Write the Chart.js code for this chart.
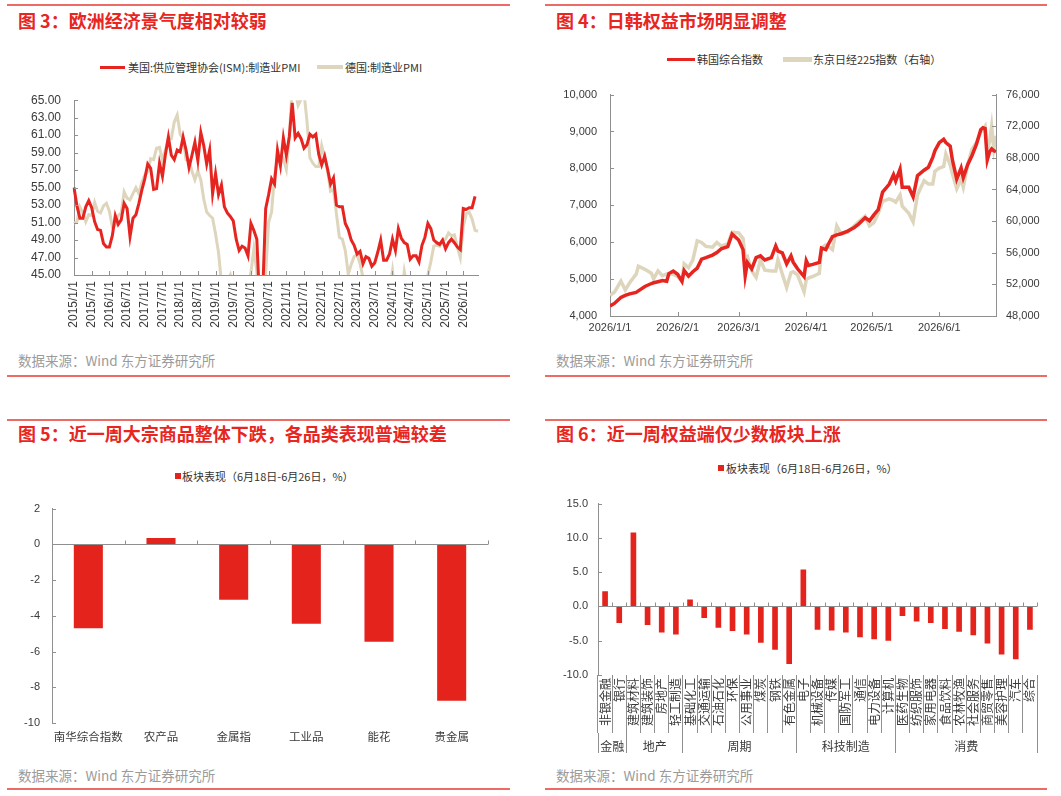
<!DOCTYPE html>
<html>
<head>
<meta charset="utf-8">
<script src="https://cdn.jsdelivr.net/npm/chart.js@4.4.1/dist/chart.umd.min.js"></script>
<style>
body { margin: 0; width: 1061px; height: 796px; background: #fff; position: relative; overflow: hidden; font-family: 'Noto Sans CJK SC', 'Liberation Sans', sans-serif; }
.rule { position: absolute; height: 2px; background: #EC6B65; }
.title { position: absolute; font-size: 18px; line-height: 18px; font-weight: bold; color: #E8251F; white-space: nowrap; }
.src { position: absolute; font-size: 13.5px; line-height: 14px; color: #9b9b9b; white-space: nowrap; }
.lg { position: absolute; font-size: 11px; line-height: 12px; color: #333; white-space: nowrap; }
.sw { position: absolute; }
canvas { position: absolute; }
</style>
</head>
<body>

<!-- 图3 -->
<div class="rule" style="left:7px;top:4px;width:503px"></div>
<div class="title" style="left:18px;top:11px">图 3：欧洲经济景气度相对较弱</div>
<div class="sw" style="left:100px;top:66px;width:25px;height:3px;background:#E62520"></div>
<div class="lg" style="left:128px;top:61px">美国:供应管理协会(ISM):制造业PMI</div>
<div class="sw" style="left:317px;top:65px;width:26px;height:4px;background:#DED5BD"></div>
<div class="lg" style="left:345px;top:61px">德国:制造业PMI</div>
<canvas id="c3" width="520" height="265" style="left:0;top:80px"></canvas>
<div class="src" style="left:18px;top:353px">数据来源：Wind 东方证券研究所</div>
<div class="rule" style="left:7px;top:375px;width:503px"></div>

<!-- 图4 -->
<div class="rule" style="left:545px;top:4px;width:502px"></div>
<div class="title" style="left:556px;top:11px">图 4：日韩权益市场明显调整</div>
<div class="sw" style="left:667px;top:58px;width:28px;height:3px;background:#E62520"></div>
<div class="lg" style="left:697px;top:53px">韩国综合指数</div>
<div class="sw" style="left:783px;top:57px;width:29px;height:5px;background:#DED5BD"></div>
<div class="lg" style="left:813px;top:53px">东京日经225指数（右轴）</div>
<canvas id="c4" width="521" height="270" style="left:540px;top:75px"></canvas>
<div class="src" style="left:556px;top:353px">数据来源：Wind 东方证券研究所</div>
<div class="rule" style="left:545px;top:375px;width:502px"></div>

<!-- 图5 -->
<div class="rule" style="left:7px;top:419px;width:503px"></div>
<div class="title" style="left:18px;top:424px">图 5：近一周大宗商品整体下跌，各品类表现普遍较差</div>
<div class="sw" style="left:175px;top:473px;width:6px;height:6px;background:#E5231D"></div>
<div class="lg" style="left:182px;top:470px">板块表现（6月18日-6月26日，%）</div>
<canvas id="c5" width="520" height="265" style="left:0;top:490px"></canvas>
<div class="src" style="left:18px;top:768px">数据来源：Wind 东方证券研究所</div>
<div class="rule" style="left:7px;top:788px;width:503px"></div>

<!-- 图6 -->
<div class="rule" style="left:545px;top:419px;width:502px"></div>
<div class="title" style="left:556px;top:424px">图 6：近一周权益端仅少数板块上涨</div>
<div class="sw" style="left:718px;top:465px;width:6px;height:6px;background:#E5231D"></div>
<div class="lg" style="left:726px;top:462px">板块表现（6月18日-6月26日，%）</div>
<canvas id="c6" width="521" height="275" style="left:540px;top:487px"></canvas>
<div class="src" style="left:556px;top:768px">数据来源：Wind 东方证券研究所</div>
<div class="rule" style="left:545px;top:788px;width:502px"></div>

<script>
// ---------- 图3 data: monthly PMI ----------
var pmiMonths = [];
for (var yr = 2015; yr <= 2026; yr++) {
    for (var mo = 1; mo <= 12; mo++) {
        if (yr === 2026 && mo > 6) break;
        pmiMonths.push(yr + '/' + mo + '/1');
    }
}
var usIsmPmi = [
    55.0, 52.9, 51.5, 51.5, 52.8, 53.5, 52.7, 51.1, 50.2, 50.1, 48.6, 48.2,
    48.2, 49.5, 51.8, 50.8, 51.3, 53.2, 52.6, 49.4, 51.5, 51.9, 53.2, 54.7,
    56.0, 57.7, 57.2, 54.8, 54.9, 57.8, 56.3, 58.8, 60.8, 58.7, 58.2, 59.3,
    59.1, 60.8, 59.3, 57.3, 58.7, 60.2, 58.1, 61.3, 59.8, 57.7, 59.3, 54.3,
    56.6, 54.2, 55.3, 52.8, 52.1, 51.7, 51.2, 49.1, 47.8, 48.3, 48.1, 47.2,
    50.9, 50.1, 49.1, 41.5, 43.1, 52.6, 54.2, 56.0, 55.4, 59.3, 57.5, 60.7,
    58.7, 60.8, 64.7, 60.7, 61.2, 60.6, 59.5, 59.9, 61.1, 60.8, 61.1, 58.8,
    57.6, 58.6, 57.1, 55.4, 56.1, 53.0, 52.8, 52.8, 50.9, 50.2, 49.0, 48.4,
    47.4, 47.7, 46.3, 47.1, 46.9, 46.0, 46.4, 47.6, 49.0, 46.7, 46.7, 47.4,
    49.1, 47.8, 50.3, 49.2, 48.7, 48.5, 46.8, 47.2, 47.2, 46.5, 48.4, 49.3,
    50.9, 50.3, 49.0, 48.7, 48.5, 49.0, 48.0, 48.7, 49.1, 48.7, 48.2, 47.9,
    52.6, 52.5, 52.7, 52.7, 54.0
];
var dePmi = [
    50.9, 51.1, 52.8, 52.1, 51.1, 51.9, 51.8, 53.3, 52.3, 52.1, 52.9, 53.2,
    52.3, 50.5, 50.7, 51.8, 52.1, 54.5, 53.8, 53.6, 54.3, 55.0, 54.3, 55.6,
    56.4, 56.8, 58.3, 58.2, 59.5, 59.6, 58.1, 59.3, 60.6, 60.6, 62.5, 63.3,
    61.1, 60.6, 58.2, 58.1, 56.9, 55.9, 56.9, 55.9, 53.7, 52.2, 51.8, 51.5,
    49.7, 47.6, 44.1, 44.4, 44.3, 45.0, 43.2, 43.5, 41.7, 42.1, 44.1, 43.7,
    45.3, 48.0, 45.4, 34.5, 36.6, 45.2, 51.0, 52.2, 56.4, 58.2, 57.8, 58.3,
    57.1, 60.7, 66.6, 66.2, 64.4, 65.1, 65.9, 62.6, 58.4, 57.8, 57.4, 57.4,
    59.8, 58.4, 56.9, 54.6, 54.8, 52.0, 49.3, 49.1, 47.8, 45.1, 46.2, 47.1,
    47.3, 46.3, 44.7, 44.5, 43.2, 40.6, 38.8, 39.1, 39.6, 40.8, 42.6, 43.3,
    45.5, 42.5, 41.9, 42.5, 45.4, 43.5, 43.2, 42.4, 40.6, 43.0, 43.0, 42.5,
    45.0, 46.5, 48.3, 48.4, 48.3, 49.0, 49.1, 49.8, 49.5, 49.6, 48.2, 47.0,
    50.5, 52.0, 52.2, 51.4, 50.1, 50.0
];

// ---------- 图4 data: daily index levels ----------
var eqDates = [
    '2026/1/1', '2026/1/3', '2026/1/6', '2026/1/8', '2026/1/10', '2026/1/13', '2026/1/14', '2026/1/17',
    '2026/1/20', '2026/1/21', '2026/1/23', '2026/1/25', '2026/1/27', '2026/1/28', '2026/1/30',
    '2026/2/1', '2026/2/3', '2026/2/4', '2026/2/6', '2026/2/8', '2026/2/10', '2026/2/12', '2026/2/14',
    '2026/2/17', '2026/2/19', '2026/2/21', '2026/2/24', '2026/2/26',
    '2026/3/1', '2026/3/3', '2026/3/4', '2026/3/5', '2026/3/7', '2026/3/9', '2026/3/11', '2026/3/13',
    '2026/3/16', '2026/3/18', '2026/3/19', '2026/3/21', '2026/3/23', '2026/3/25', '2026/3/26',
    '2026/3/28', '2026/3/31',
    '2026/4/1', '2026/4/2', '2026/4/4', '2026/4/7', '2026/4/8', '2026/4/10', '2026/4/11', '2026/4/13',
    '2026/4/15', '2026/4/17', '2026/4/20', '2026/4/23', '2026/4/25', '2026/4/28', '2026/4/30',
    '2026/5/2', '2026/5/4', '2026/5/6', '2026/5/9', '2026/5/11', '2026/5/12', '2026/5/14', '2026/5/15',
    '2026/5/18', '2026/5/20', '2026/5/22', '2026/5/25', '2026/5/27', '2026/5/29', '2026/5/30',
    '2026/6/1', '2026/6/3', '2026/6/4', '2026/6/6', '2026/6/7', '2026/6/9', '2026/6/11', '2026/6/12',
    '2026/6/14', '2026/6/16', '2026/6/18', '2026/6/20', '2026/6/21', '2026/6/22', '2026/6/23',
    '2026/6/24', '2026/6/25', '2026/6/26', '2026/6/27'
];
var kospi = [
    4270, 4340, 4500, 4560, 4600, 4640, 4680, 4800,
    4880, 4900, 4930, 4960, 4940, 5150, 5220,
    5130, 4940, 5230, 5080, 5200, 5300, 5540, 5580,
    5650, 5720, 5820, 5880, 6220,
    6060, 5800, 5090, 5450, 5280, 5580, 5630, 5520,
    5580, 5900, 5760, 5710, 5410, 5630, 5460,
    5280, 5070,
    5500, 5370, 5400, 5450, 5840, 5800, 5930, 6150,
    6200, 6230, 6300, 6400, 6490, 6660, 6580,
    6740, 6880, 7360, 7570, 7830, 7660, 7980, 7490,
    7490, 7230, 7800, 7950, 8030, 8300, 8480,
    8700, 8790, 8700, 8600, 8230, 7710, 8010, 7750,
    8100, 8350, 8650, 9050, 9100, 9080, 8230,
    8440, 8530, 8480, 8450
];
var nikkei = [
    50600, 51000, 52400, 51300, 52200, 53300, 54300, 53900,
    53400, 52700, 53700, 53100, 53300, 53300, 53300,
    53000, 52400, 54600, 54100, 55100, 57500, 57300, 56800,
    56700, 57300, 56850, 57100, 58600,
    58500, 57800, 55300, 55500, 53700, 52900, 55100, 53800,
    53700, 53700, 55100, 53300, 51600, 53500, 53600,
    53200, 51050,
    52600, 52800, 53000, 53400, 56600, 57000, 56800, 56400,
    59400, 58400, 58600, 59400, 59900, 60600, 59400,
    59800, 61000, 62500, 62800, 62600, 62400, 63300, 61900,
    61000, 59900, 63300, 65100, 64700, 64700, 66300,
    66700, 66900, 68500, 67100, 66000, 64100, 65300, 64300,
    67100, 69100, 69900, 71300, 71600, 72000, 68900,
    70000, 72000, 69200, 70800
];
var eqMonthTicks = ['2026/1/1', '2026/2/1', '2026/3/1', '2026/4/1', '2026/5/1', '2026/6/1'];

// ---------- 图5 data ----------
var commodNames = ['南华综合指数', '农产品', '金属指', '工业品', '能花', '贵金属'];
var commodChg = [-4.7, 0.35, -3.1, -4.45, -5.45, -8.75];

// ---------- 图6 data ----------
var sectorNames = [
    '非银金融', '银行',
    '建筑材料', '建筑装饰', '房地产', '轻工制造',
    '基础化工', '交通运输', '石油石化', '环保', '公用事业', '煤炭', '钢铁', '有色金属',
    '电子', '机械设备', '传媒', '国防军工', '通信', '电力设备', '计算机',
    '医药生物', '纺织服饰', '家用电器', '食品饮料', '农林牧渔', '社会服务', '商贸零售', '美容护理', '汽车', '综合'
];
var sectorChg = [
    2.2, -2.4,
    10.8, -2.7, -3.8, -4.1,
    1.0, -1.7, -3.1, -3.6, -4.1, -5.3, -6.3, -8.4,
    5.4, -3.4, -3.5, -3.8, -4.5, -4.8, -5.0,
    -1.4, -2.2, -2.4, -3.3, -3.7, -4.2, -5.4, -7.0, -7.7, -3.4
];
var sectorGroups = ['金融', '地产', '周期', '科技制造', '消费'];
var sectorGroupSizes = [2, 4, 8, 7, 10];

var RED = '#E62520';
var BAR_RED = '#E5231D';
var BEIGE = '#DED5BD';
var AXIS = '#8f8f8f';
var LABEL = '#3a3a3a';
var CJK = "'Noto Sans CJK SC', 'Liberation Sans', sans-serif";

Chart.defaults.font.family = "'Liberation Sans', 'Noto Sans CJK SC', sans-serif";
Chart.defaults.font.size = 11;
Chart.defaults.color = LABEL;

// small inward tick marks + zero line like the excel originals
var axisDeco = {
    id: 'axisDeco',
    afterDatasetsDraw: function(chart, args, o) {
        var ctx = chart.ctx, a = chart.chartArea;
        ctx.save();
        ctx.strokeStyle = AXIS;
        ctx.lineWidth = 1;
        ctx.beginPath();
        (o.inY || []).forEach(function(id) {
            var s = chart.scales[id];
            var left = s.position === 'left';
            var x = left ? a.left : a.right;
            s.ticks.forEach(function(t, i) {
                var y = Math.round(s.getPixelForTick(i)) + 0.5;
                ctx.moveTo(x, y);
                ctx.lineTo(x + (left ? 4 : -4), y);
            });
        });
        if (o.inX) {
            var sx = chart.scales.x;
            sx.ticks.forEach(function(t, i) {
                if (!t.label) return;
                var x = Math.round(sx.getPixelForTick(i)) + 0.5;
                ctx.moveTo(x, a.bottom);
                ctx.lineTo(x, a.bottom - 4);
            });
        }
        if (o.zero) {
            var sc = chart.scales.x;
            var y0 = Math.round(chart.scales.y.getPixelForValue(0)) + 0.5;
            ctx.moveTo(a.left, y0);
            ctx.lineTo(a.right, y0);
            var half = (sc.getPixelForValue(1) - sc.getPixelForValue(0)) / 2;
            for (var i = 0; i < chart.data.labels.length; i++) {
                var bx = Math.round(sc.getPixelForValue(i) + half) + 0.5;
                ctx.moveTo(bx, y0);
                ctx.lineTo(bx, y0 - 4);
            }
        }
        ctx.stroke();
        ctx.restore();
    }
};

var noGrid = { display: false, drawTicks: false };

// ---------- 图3 ----------
new Chart(document.getElementById('c3'), {
    type: 'line',
    data: {
        labels: pmiMonths,
        datasets: [
            { label: '美国:供应管理协会(ISM):制造业PMI', data: usIsmPmi, borderColor: RED, borderWidth: 3, pointRadius: 0, tension: 0 },
            { label: '德国:制造业PMI', data: dePmi, borderColor: BEIGE, borderWidth: 3, pointRadius: 0, tension: 0 }
        ]
    },
    options: {
        responsive: false,
        animation: false,
        layout: { padding: { top: 11, right: 42 } },
        plugins: { legend: { display: false }, tooltip: { enabled: false }, axisDeco: { inY: ['y'], inX: true } },
        scales: {
            x: {
                grid: noGrid,
                border: { color: AXIS },
                ticks: {
                    autoSkip: false, minRotation: 90, maxRotation: 90, padding: 6, font: { size: 12 },
                    callback: function(v, i) { return i % 6 === 0 ? pmiMonths[i] : ''; }
                },
                afterFit: function(s) { s.height = 70; }
            },
            y: {
                min: 45, max: 65,
                grid: noGrid,
                border: { color: AXIS },
                ticks: { stepSize: 2, padding: 13, font: { size: 12 }, callback: function(v) { return v.toFixed(2); } },
                afterFit: function(s) { s.width = 74; }
            }
        }
    },
    plugins: [axisDeco]
});

// ---------- 图4 ----------
function dayOf(s) {
    var p = s.split('/').map(Number);
    return (Date.UTC(p[0], p[1] - 1, p[2]) - Date.UTC(2026, 0, 1)) / 864e5;
}
var eqDays = eqDates.map(dayOf);
var tickDays = eqMonthTicks.map(dayOf);

new Chart(document.getElementById('c4'), {
    type: 'line',
    data: {
        datasets: [
            { label: '韩国综合指数', yAxisID: 'y', borderColor: RED, borderWidth: 3.5, pointRadius: 0, tension: 0,
              data: eqDays.map(function(d, i) { return { x: d, y: kospi[i] }; }) },
            { label: '东京日经225指数（右轴）', yAxisID: 'y1', borderColor: BEIGE, borderWidth: 3.5, pointRadius: 0, tension: 0,
              data: eqDays.map(function(d, i) { return { x: d, y: nikkei[i] }; }) }
        ]
    },
    options: {
        responsive: false,
        animation: false,
        layout: { padding: { top: 10 } },
        plugins: { legend: { display: false }, tooltip: { enabled: false }, axisDeco: { inY: ['y', 'y1'], inX: true } },
        scales: {
            x: {
                type: 'linear',
                min: eqDays[0], max: eqDays[eqDays.length - 1],
                afterBuildTicks: function(s) { s.ticks = tickDays.map(function(v) { return { value: v }; }); },
                grid: noGrid,
                border: { color: AXIS },
                ticks: { autoSkip: false, maxRotation: 0, padding: 5, callback: function(v) { return eqMonthTicks[tickDays.indexOf(v)]; } },
                afterFit: function(s) { s.height = 29; }
            },
            y: {
                position: 'left', min: 4000, max: 10000,
                grid: noGrid,
                border: { color: AXIS },
                ticks: { stepSize: 1000, padding: 13, callback: function(v) { return v.toLocaleString('en-US'); } },
                afterFit: function(s) { s.width = 70; }
            },
            y1: {
                position: 'right', min: 48000, max: 76000,
                grid: noGrid,
                border: { color: AXIS },
                ticks: { stepSize: 4000, padding: 10, callback: function(v) { return v.toLocaleString('en-US'); } },
                afterFit: function(s) { s.width = 65; }
            }
        }
    },
    plugins: [axisDeco]
});

// ---------- 图5 ----------
new Chart(document.getElementById('c5'), {
    type: 'bar',
    data: {
        labels: commodNames,
        datasets: [{ label: '板块表现（6月18日-6月26日，%）', data: commodChg, backgroundColor: BAR_RED, barPercentage: 0.8, categoryPercentage: 0.5 }]
    },
    options: {
        responsive: false,
        animation: false,
        layout: { padding: { top: 11, right: 32 } },
        plugins: { legend: { display: false }, tooltip: { enabled: false }, axisDeco: { inY: ['y'], zero: true } },
        scales: {
            x: {
                grid: noGrid,
                border: { display: false },
                ticks: { maxRotation: 0, padding: 7, font: { size: 11.5, family: CJK } },
                afterFit: function(s) { s.height = 32; }
            },
            y: {
                min: -10, max: 2,
                grid: noGrid,
                border: { color: AXIS },
                ticks: { stepSize: 2, padding: 12 },
                afterFit: function(s) { s.width = 52; }
            }
        }
    },
    plugins: [axisDeco]
});

// ---------- 图6 ----------
var groupEdges = [0];
sectorGroupSizes.forEach(function(n, i) { groupEdges.push(groupEdges[i] + n); });
var groupMids = sectorGroupSizes.map(function(n, i) { return groupEdges[i] + n / 2; });

new Chart(document.getElementById('c6'), {
    type: 'bar',
    data: {
        labels: sectorNames,
        datasets: [{ label: '板块表现（6月18日-6月26日，%）', data: sectorChg, backgroundColor: BAR_RED, barPercentage: 0.8, categoryPercentage: 0.5 }]
    },
    options: {
        responsive: false,
        animation: false,
        layout: { padding: { top: 10, right: 24 } },
        plugins: { legend: { display: false }, tooltip: { enabled: false }, axisDeco: { inY: ['y'], zero: true } },
        scales: {
            x: {
                weight: 0,
                grid: { display: true, offset: true, drawOnChartArea: false, drawTicks: true, tickLength: 58, tickColor: AXIS },
                border: { display: false },
                ticks: { autoSkip: false, minRotation: 90, maxRotation: 90, padding: -55, font: { size: 12, family: CJK } },
                afterFit: function(s) { s.height = 58; }
            },
            // second row: sector groups, drawn on a 0..31 linear axis sharing the same width
            x2: {
                type: 'linear',
                position: 'bottom',
                weight: 1,
                offset: false,
                min: 0, max: sectorNames.length,
                afterBuildTicks: function(s) {
                    s.ticks = groupEdges.concat(groupMids).sort(function(a, b) { return a - b; })
                        .map(function(v) { return { value: v }; });
                },
                grid: {
                    display: true, offset: false, drawOnChartArea: false, drawTicks: true, tickLength: 20,
                    tickColor: function(c) { return c.tick && groupEdges.indexOf(c.tick.value) >= 0 ? AXIS : 'rgba(0,0,0,0)'; }
                },
                border: { display: false },
                ticks: {
                    autoSkip: false, maxRotation: 0, padding: -14, font: { size: 12, family: CJK },
                    callback: function(v) { var k = groupMids.indexOf(v); return k < 0 ? '' : sectorGroups[k]; }
                },
                afterFit: function(s) { s.height = 29; }
            },
            y: {
                min: -10, max: 15,
                grid: noGrid,
                border: { color: AXIS },
                ticks: { stepSize: 5, padding: 10, callback: function(v) { return v.toFixed(1); } },
                afterFit: function(s) { s.width = 58; }
            }
        }
    },
    plugins: [axisDeco]
});
</script>
</body>
</html>
